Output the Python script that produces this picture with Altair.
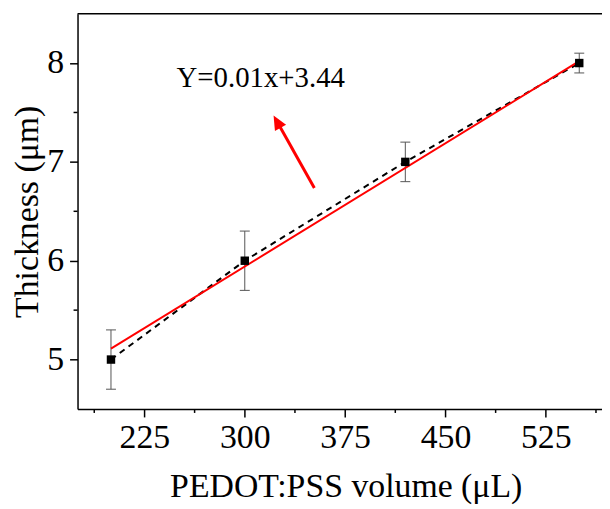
import altair as alt
import pandas as pd

# ---- data ----
volume = [200, 300, 420, 550]          # PEDOT:PSS volume (µL)
thickness = [5.0, 6.0, 7.0, 8.0]       # Thickness (µm)
error = [0.3, 0.3, 0.2, 0.1]           # error bar half-lengths
fit_x = [200, 550]                     # linear fit line end points
fit_y = [5.11, 8.02]
x_ticks = [225, 300, 375, 450, 525]
x_minor = [187.5, 262.5, 337.5, 412.5, 487.5, 562.5]
y_ticks = [5, 6, 7, 8]
y_minor = [5.5, 6.5, 7.5]
eq_text = ["Y=0.01x+3.44"]
eq_x = [249]
eq_y = [7.846]
arrow_tail_x = [352.0]
arrow_tail_y = [6.736]
arrow_head_x = [324.4]
arrow_head_y = [7.40]

W, H = 528, 398
FONT = "Liberation Serif"

xs = alt.Scale(domain=[175, 567], nice=False, zero=False)
ys = alt.Scale(domain=[4.5, 8.5], nice=False, zero=False)

x_axis = alt.Axis(values=x_ticks, title="PEDOT:PSS volume (μL)", grid=False,
                  tickSize=8, labelPadding=4, titlePadding=15, format="d",
                  titleX=270)
y_axis = alt.Axis(values=y_ticks, title="Thickness (μm)", grid=False,
                  tickSize=8, labelPadding=6, titlePadding=2, format="d")


def X(f):
    return alt.X(f, type="quantitative", scale=xs, axis=x_axis)


def Y(f):
    return alt.Y(f, type="quantitative", scale=ys, axis=y_axis)


pts = pd.DataFrame({"v": volume, "t": thickness, "e": error})
pts["lo"] = pts["t"] - pts["e"]
pts["hi"] = pts["t"] + pts["e"]
fit = pd.DataFrame({"v": fit_x, "t": fit_y})
eq = pd.DataFrame({"x": eq_x, "y": eq_y, "txt": eq_text})
arrow = pd.DataFrame({"x": arrow_tail_x, "y": arrow_tail_y,
                      "x2": arrow_head_x, "y2": arrow_head_y})
xmin = pd.DataFrame({"v": x_minor})
ymin = pd.DataFrame({"v": y_minor})
one = pd.DataFrame({"a": [0]})

base = alt.Chart(pts)

err_rule = base.mark_rule(color="#555555", strokeWidth=1).encode(
    x=X("v"), y=Y("lo"), y2=alt.Y2("hi"))
err_cap_lo = base.mark_tick(orient="horizontal", size=10, thickness=1,
                            color="#555555", opacity=1).encode(x=X("v"), y=Y("lo"))
err_cap_hi = base.mark_tick(orient="horizontal", size=10, thickness=1,
                            color="#555555", opacity=1).encode(x=X("v"), y=Y("hi"))

dash_line = base.mark_line(color="black", strokeWidth=2, strokeDash=[6, 5]).encode(
    x=X("v"), y=Y("t"))

fit_line = alt.Chart(fit).mark_line(color="#ff0000", strokeWidth=2).encode(
    x=X("v"), y=Y("t"))

squares = base.mark_point(shape="square", filled=True, size=72, color="black",
                          opacity=1).encode(x=X("v"), y=Y("t"))

eq_label = alt.Chart(eq).mark_text(align="left", baseline="middle", font=FONT,
                                   fontSize=29, color="black").encode(
    x=X("x"), y=Y("y"), text="txt:N")

arrow_shaft = alt.Chart(arrow).mark_rule(color="#ff0000", strokeWidth=3).encode(
    x=X("x"), y=Y("y"), x2=alt.X2("x2"), y2=alt.Y2("y2"))
arrow_head = alt.Chart(arrow).mark_point(
    shape="M0,-1L0.8,0.8L-0.8,0.8Z", size=256, filled=True, color="#ff0000",
    opacity=1, angle=331, strokeWidth=0).encode(x=X("x2"), y=Y("y2"))

x_minor_ticks = alt.Chart(xmin).mark_rule(color="black", strokeWidth=1.5).encode(
    x=X("v"), y=alt.value(H), y2=alt.value(H + 4))
y_minor_ticks = alt.Chart(ymin).mark_rule(color="black", strokeWidth=1.5).encode(
    y=Y("v"), x=alt.value(-4), x2=alt.value(0))

top_border = alt.Chart(one).mark_rule(color="black", strokeWidth=1.5).encode(
    x=alt.value(0), x2=alt.value(W), y=alt.value(0))

chart = alt.layer(
    x_minor_ticks, y_minor_ticks, top_border,
    err_rule, err_cap_lo, err_cap_hi,
    dash_line, fit_line, squares,
    arrow_shaft, arrow_head, eq_label,
).properties(
    width=W, height=H,
    padding={"left": 70, "top": 4, "right": 0, "bottom": 95},
    autosize="none",
).configure_view(stroke=None).configure_axis(
    labelFont=FONT, titleFont=FONT, labelFontSize=34, titleFontSize=34,
    titleFontWeight="normal", labelColor="black", titleColor="black",
    domainColor="black", domainWidth=1.5, tickColor="black", tickWidth=1.5,
)

chart.save("out.html", embed_options={"renderer": "svg", "actions": False})
